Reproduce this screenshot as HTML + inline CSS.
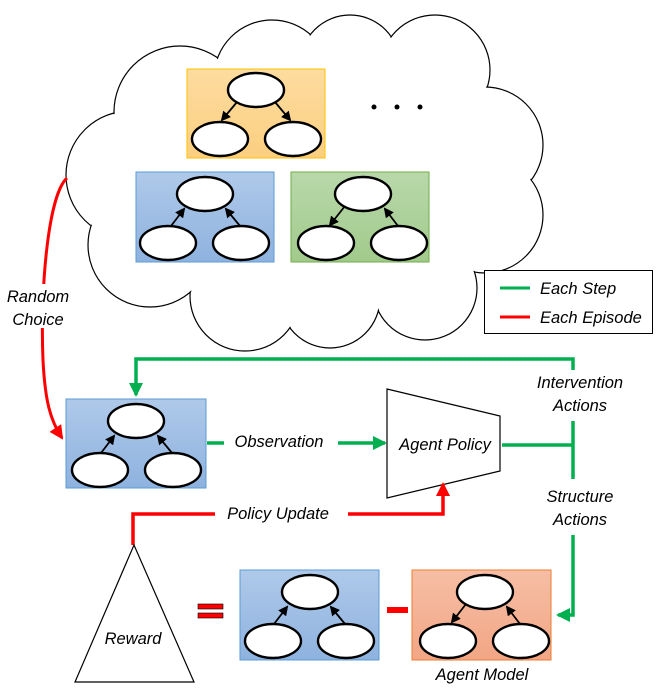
<!DOCTYPE html>
<html><head><meta charset="utf-8"><style>
html,body{margin:0;padding:0;background:#fff;}
svg text{font-family:"Liberation Sans",sans-serif;font-style:italic;font-size:16.5px;fill:#000;}
</style></head><body>
<svg width="657" height="687" viewBox="0 0 657 687" xmlns="http://www.w3.org/2000/svg">
<defs>
<linearGradient id="gb" x1="0" y1="0" x2="0" y2="1"><stop offset="0" stop-color="#afc9e9"/><stop offset="1" stop-color="#8eb2df"/></linearGradient>
<linearGradient id="go" x1="0" y1="0" x2="0" y2="1"><stop offset="0" stop-color="#fddca0"/><stop offset="1" stop-color="#fccf80"/></linearGradient>
<linearGradient id="gg" x1="0" y1="0" x2="0" y2="1"><stop offset="0" stop-color="#b8d8aa"/><stop offset="1" stop-color="#a2ca8c"/></linearGradient>
<linearGradient id="gs" x1="0" y1="0" x2="0" y2="1"><stop offset="0" stop-color="#f6bea5"/><stop offset="1" stop-color="#f2a685"/></linearGradient>
<marker id="ab" markerWidth="10" markerHeight="10" refX="8" refY="5" orient="auto" markerUnits="userSpaceOnUse"><path d="M0,0 L10,5 L0,10 z" fill="#000"/></marker>
<marker id="ag" markerWidth="14" markerHeight="14" refX="12" refY="7" orient="auto" markerUnits="userSpaceOnUse"><path d="M0,0 L14,7 L0,14 z" fill="#00b050"/></marker>
<marker id="ar" markerWidth="14" markerHeight="14" refX="12" refY="7" orient="auto" markerUnits="userSpaceOnUse"><path d="M0,0 L14,7 L0,14 z" fill="#ff0000"/></marker>
</defs>

<g stroke="#000" stroke-width="1.2" fill="#fff">
<circle cx="130" cy="175" r="64"/><circle cx="180" cy="112" r="66"/><circle cx="272" cy="78" r="58"/>
<circle cx="350" cy="65" r="50"/><circle cx="435" cy="70" r="55"/><circle cx="485" cy="145" r="58"/>
<circle cx="485" cy="215" r="58"/><circle cx="425" cy="288" r="52"/><circle cx="330" cy="298" r="50"/>
<circle cx="245" cy="296" r="55"/><circle cx="150" cy="245" r="62"/>
</g>
<g fill="#fff">
<circle cx="130" cy="175" r="63"/><circle cx="180" cy="112" r="65"/><circle cx="272" cy="78" r="57"/>
<circle cx="350" cy="65" r="49"/><circle cx="435" cy="70" r="54"/><circle cx="485" cy="145" r="57"/>
<circle cx="485" cy="215" r="57"/><circle cx="425" cy="288" r="51"/><circle cx="330" cy="298" r="49"/>
<circle cx="245" cy="296" r="54"/><circle cx="150" cy="245" r="61"/>
<ellipse cx="305" cy="180" rx="190" ry="115"/>
</g>

<g stroke-width="2.4" stroke="#000">
<rect x="187" y="69" width="138" height="89" fill="url(#go)" stroke="#ffc000" stroke-width="1"/>
<line x1="237" y1="102" x2="222" y2="120" marker-end="url(#ab)" stroke-width="1.8"/>
<line x1="275" y1="102" x2="290" y2="120" marker-end="url(#ab)" stroke-width="1.8"/>
<ellipse cx="256" cy="90" rx="28" ry="17" fill="#fff"/><ellipse cx="220" cy="139" rx="28" ry="17" fill="#fff"/><ellipse cx="293" cy="139" rx="28" ry="17" fill="#fff"/>

<rect x="136" y="172" width="138" height="90" fill="url(#gb)" stroke="#5b9bd5" stroke-width="1"/>
<line x1="171" y1="226" x2="184" y2="209" marker-end="url(#ab)" stroke-width="1.8"/>
<line x1="240" y1="226" x2="226" y2="209" marker-end="url(#ab)" stroke-width="1.8"/>
<ellipse cx="205" cy="194" rx="28" ry="17" fill="#fff"/><ellipse cx="168" cy="243" rx="28" ry="17" fill="#fff"/><ellipse cx="241" cy="243" rx="28" ry="17" fill="#fff"/>

<rect x="291" y="172" width="138" height="90" fill="url(#gg)" stroke="#70ad47" stroke-width="1"/>
<line x1="345" y1="206" x2="330" y2="225" marker-end="url(#ab)" stroke-width="1.8"/>
<line x1="398" y1="226" x2="385" y2="209" marker-end="url(#ab)" stroke-width="1.8"/>
<ellipse cx="363" cy="194" rx="28" ry="17" fill="#fff"/><ellipse cx="326" cy="243" rx="28" ry="17" fill="#fff"/><ellipse cx="399" cy="243" rx="28" ry="17" fill="#fff"/>

<rect x="66" y="399" width="140" height="89" fill="url(#gb)" stroke="#5b9bd5" stroke-width="1"/>
<line x1="101" y1="453" x2="114" y2="436" marker-end="url(#ab)" stroke-width="1.8"/>
<line x1="172" y1="453" x2="158" y2="436" marker-end="url(#ab)" stroke-width="1.8"/>
<ellipse cx="136" cy="421" rx="28" ry="17" fill="#fff"/><ellipse cx="100" cy="470" rx="28" ry="17" fill="#fff"/><ellipse cx="173" cy="470" rx="28" ry="17" fill="#fff"/>

<rect x="240" y="570" width="139" height="90" fill="url(#gb)" stroke="#5b9bd5" stroke-width="1"/>
<line x1="274" y1="624" x2="287" y2="607" marker-end="url(#ab)" stroke-width="1.8"/>
<line x1="345" y1="624" x2="331" y2="607" marker-end="url(#ab)" stroke-width="1.8"/>
<ellipse cx="310" cy="592" rx="28" ry="17" fill="#fff"/><ellipse cx="273" cy="641" rx="28" ry="17" fill="#fff"/><ellipse cx="346" cy="641" rx="28" ry="17" fill="#fff"/>

<rect x="412" y="570" width="139" height="90" fill="url(#gs)" stroke="#ed7d31" stroke-width="1"/>
<line x1="466" y1="604" x2="452" y2="622" marker-end="url(#ab)" stroke-width="1.8"/>
<line x1="520" y1="624" x2="507" y2="607" marker-end="url(#ab)" stroke-width="1.8"/>
<ellipse cx="485" cy="592" rx="28" ry="17" fill="#fff"/><ellipse cx="448" cy="641" rx="28" ry="17" fill="#fff"/><ellipse cx="521" cy="641" rx="28" ry="17" fill="#fff"/>
</g>

<circle cx="374" cy="107" r="2.5" fill="#000"/><circle cx="397" cy="107" r="2.5" fill="#000"/><circle cx="420" cy="107" r="2.5" fill="#000"/>

<rect x="484.5" y="270.5" width="168" height="63" fill="#fff" stroke="#000" stroke-width="1"/>
<line x1="500" y1="288" x2="530" y2="288" stroke="#00b050" stroke-width="3"/>
<line x1="500" y1="317" x2="530" y2="317" stroke="#ff0000" stroke-width="3"/>
<text x="540" y="294">Each Step</text>
<text x="540" y="323">Each Episode</text>

<path d="M67,178 C48,195 40,290 43,360 C45,400 50,420 62,438" fill="none" stroke="#ff0000" stroke-width="3" marker-end="url(#ar)"/>
<rect x="3" y="284" width="74" height="44" fill="#fff"/>
<text x="38" y="302" text-anchor="middle">Random</text>
<text x="38" y="325" text-anchor="middle">Choice</text>

<polygon points="387,389 500,416 500,471 387,498" fill="#fff" stroke="#000" stroke-width="1.2"/>
<text x="445" y="450" text-anchor="middle">Agent Policy</text>

<g fill="none" stroke="#00b050" stroke-width="3.5">
<polyline points="573,370 573,359 136,359 136,395" marker-end="url(#ag)"/>
<line x1="573" y1="421" x2="573" y2="479"/>
<line x1="502" y1="445" x2="573" y2="445"/>
<line x1="207" y1="443" x2="224" y2="443"/>
<line x1="338" y1="443" x2="385" y2="443" marker-end="url(#ag)"/>
<polyline points="573,535 573,615 558,615" marker-end="url(#ag)"/>
</g>
<text x="580" y="388" text-anchor="middle">Intervention</text>
<text x="580" y="411" text-anchor="middle">Actions</text>
<text x="580" y="502" text-anchor="middle">Structure</text>
<text x="580" y="525" text-anchor="middle">Actions</text>
<text x="279" y="447" text-anchor="middle">Observation</text>

<g fill="none" stroke="#ff0000" stroke-width="3.5">
<polyline points="133,545 133,514 215,514"/>
<polyline points="348,514 443,514 443,484" marker-end="url(#ar)"/>
</g>
<text x="278" y="519" text-anchor="middle">Policy Update</text>

<polygon points="134,545 75,682 194,682" fill="#fff" stroke="#000" stroke-width="1.2"/>
<text x="133" y="644" text-anchor="middle">Reward</text>

<rect x="198" y="604" width="25" height="5" fill="#ff0000" stroke="#000" stroke-width="0.6"/>
<rect x="198" y="613" width="25" height="5" fill="#ff0000" stroke="#000" stroke-width="0.6"/>
<rect x="387" y="607" width="21" height="6" fill="#ff0000"/>
<text x="482" y="680" text-anchor="middle">Agent Model</text>
</svg>
</body></html>
